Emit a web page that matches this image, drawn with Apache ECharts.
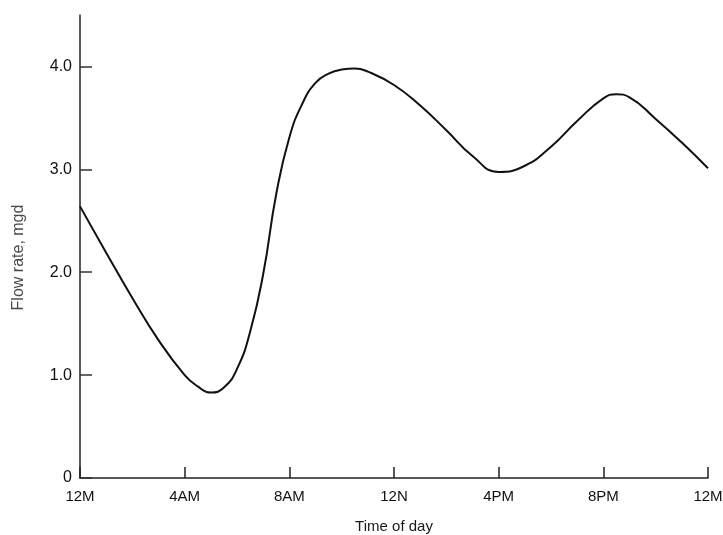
<!DOCTYPE html>
<html>
<head>
<meta charset="utf-8">
<script src="https://cdn.jsdelivr.net/npm/echarts@6/dist/echarts.min.js"></script>
<style>html,body{margin:0;padding:0;background:#fff}#c{width:723px;height:535px}</style>
</head>
<body>
<div id="c"></div>
<script>
// Hours since midnight and flow rate (mgd)
const hours = [0, 1, 2, 3, 4, 4.5, 5, 5.5, 6, 6.5, 7, 7.5, 8, 8.5, 9, 9.5, 10, 10.5, 11, 12, 13, 14, 15, 16, 17, 18, 19, 20, 20.5, 21, 22, 23, 24];
const flow  = [2.64, 2.19, 1.75, 1.34, 1.00, 0.89, 0.83, 0.88, 1.06, 1.42, 1.98, 2.76, 3.31, 3.64, 3.84, 3.93, 3.97, 3.98, 3.95, 3.82, 3.62, 3.38, 3.13, 2.975, 3.035, 3.22, 3.47, 3.69, 3.73, 3.70, 3.49, 3.26, 3.01];
const xTickValues = [0, 4, 8, 12, 16, 20, 24];
const xTickLabels = ['12M', '4AM', '8AM', '12N', '4PM', '8PM', '12M'];
const yTickValues = [0, 1, 2, 3, 4];
const yTickLabels = ['0', '1.0', '2.0', '3.0', '4.0'];

const font = '"Liberation Sans", Arial, sans-serif';
const chart = echarts.init(document.getElementById('c'), null, {renderer: 'canvas'});
chart.setOption({
  animation: false,
  backgroundColor: '#fff',
  grid: {left: 80, right: 15, top: 15, bottom: 57, containLabel: false, outerBoundsMode: 'none'},
  xAxis: {
    type: 'value', min: 0, max: 24, interval: 4,
    name: 'Time of day', nameLocation: 'middle', nameGap: 41,
    nameTextStyle: {fontFamily: font, fontSize: 15, color: '#1a1a1a'},
    axisLine: {show: true, lineStyle: {color: '#222', width: 1.5}},
    axisTick: {show: true, inside: true, length: 11, lineStyle: {color: '#222', width: 1.5}},
    axisLabel: {
      margin: 11, fontFamily: font, fontSize: 15, color: '#111',
      formatter: v => { const i = xTickValues.indexOf(v); return i >= 0 ? xTickLabels[i] : ''; }
    },
    splitLine: {show: false}
  },
  yAxis: {
    type: 'value', min: 0, max: 4.5,
    name: 'Flow rate, mgd', nameLocation: 'middle', nameGap: 53, nameRotate: 90,
    nameTextStyle: {fontFamily: font, fontSize: 16, color: '#4a4a4a', padding: [0, 22, 0, 0]},
    axisLine: {show: true, lineStyle: {color: '#222', width: 1.5}},
    axisTick: {show: true, inside: true, length: 12, customValues: yTickValues, lineStyle: {color: '#333', width: 1.5}},
    axisLabel: {
      margin: 8, fontFamily: font, fontSize: 16, color: '#111', customValues: yTickValues,
      formatter: v => { const i = yTickValues.indexOf(v); return i >= 0 ? yTickLabels[i] : ''; }
    },
    splitLine: {show: false}
  },
  series: [{
    type: 'line',
    data: hours.map((h, i) => [h, flow[i]]),
    smooth: 0.5,
    showSymbol: false,
    lineStyle: {color: '#111', width: 2}
  }]
});
</script>
</body>
</html>
